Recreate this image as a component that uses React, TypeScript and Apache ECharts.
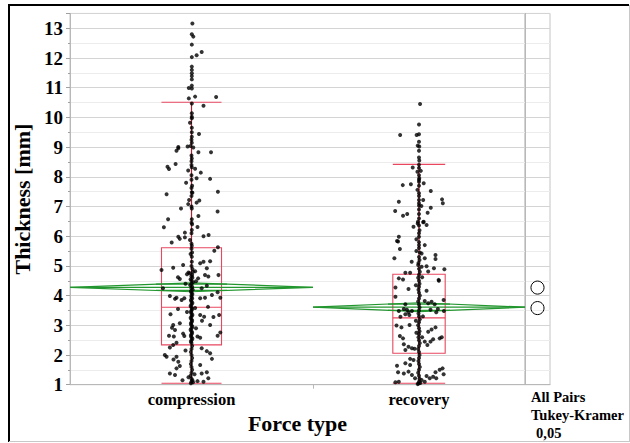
import React, { useEffect, useRef } from "react";
import * as echarts from "echarts";

// ---------- data ----------
const categories = ["compression", "recovery"];
// group widths on the x axis (proportional to group size, JMP style)
const bandWeights = [243, 212];

// box plot stats: [min whisker, Q1, median, Q3, max whisker]
const compressionBox = [1.05, 2.34, 3.61, 5.61, 10.51];
const recoveryBox = [1.05, 2.06, 3.25, 4.72, 8.42];

// means diamonds: [mean, lower 95%, upper 95%]
const compressionMean = [4.28, 4.13, 4.43];
const recoveryMean = [3.61, 3.46, 3.76];

// comparison circles (Tukey-Kramer): [centre, radius]
const compressionCircle = [4.27, 0.22];
const recoveryCircle = [3.58, 0.22];

// jittered observations: [jitter (fraction of box half-width), thickness]
const compressionPoints = [
  [0.03, 13.16], [0.01, 12.8], [0.06, 12.72], [0.01, 12.45], [0.01, 12.03], [0.17, 12.09], [0.34, 12.2],
  [0.01, 11.71], [0.01, 11.6], [0.01, 11.49], [0.01, 11.39], [0.01, 11.28], [0.01, 11.07], [-0.09, 10.99], [0.01, 10.97],
  [-0.09, 10.64], [0.12, 10.7], [0.82, 10.69], [0.01, 10.47], [0.4, 10.39],
  [0.01, 10.14], [0.01, 10.02], [0.01, 9.97], [-0.05, 9.82], [0.01, 9.65], [0.01, 9.5], [0.25, 9.44], [0.01, 9.35],
  [0.0, 9.25], [0.01, 9.15], [-0.44, 9.0], [-0.13, 9.02], [-0.03, 9.04], [0.06, 8.99],
  [-0.44, 8.96], [-0.5, 8.88], [0.23, 8.83], [0.65, 8.83], [0.0, 8.72], [0.01, 8.62], [0.0, 8.52],
  [-0.8, 8.34], [-0.75, 8.26], [-0.53, 8.43], [-0.11, 8.21], [0.12, 8.27], [0.31, 8.14], [0.0, 8.4], [0.01, 8.32],
  [0.62, 7.93], [0.17, 7.95], [-0.18, 7.8], [0.0, 8.05], [0.0, 7.9], [0.02, 7.7], [0.0, 7.62],
  [0.01, 7.48], [0.03, 7.46], [0.88, 7.5], [-0.83, 7.41], [0.0, 7.35],
  [-0.08, 7.22], [0.26, 7.2], [0.17, 7.13], [-0.11, 7.08], [0.0, 7.0],
  [-0.35, 6.93], [0.01, 6.93], [0.87, 6.83], [0.23, 6.68], [0.01, 6.57], [-0.78, 6.57], [0.0, 6.45], [0.02, 6.4],
  [-0.92, 6.3], [0.2, 6.31], [0.01, 6.21], [-0.22, 6.12], [0.4, 6.0], [0.57, 6.04], [0.0, 6.1],
  [-0.44, 5.98], [-0.39, 5.91], [-0.22, 5.96], [-0.66, 5.79], [-0.05, 5.87], [0.0, 5.75], [0.01, 5.68],
  [0.88, 5.63], [0.76, 5.51], [0.0, 5.58], [0.02, 5.45], [-0.03, 5.4],
  [0.01, 5.31], [0.01, 5.14], [0.4, 5.14], [0.62, 5.16], [-1.0, 4.86], [-0.61, 4.94], [-0.28, 5.03], [0.29, 5.09], [0.51, 4.92],
  [0.0, 5.0], [0.03, 4.9], [0.05, 4.8], [-0.06, 4.75], [0.02, 4.7], [0.0, 4.65], [0.03, 4.6], [-0.03, 4.55], [0.0, 4.5],
  [0.05, 4.45], [0.0, 4.4], [-0.04, 4.35], [0.02, 4.3], [0.0, 4.25], [0.04, 4.2], [-0.02, 4.15], [0.0, 4.1], [0.03, 4.05], [0.0, 4.0],
  [-0.39, 4.56], [0.45, 4.69], [0.56, 4.64], [0.9, 4.69], [-0.1, 4.78], [0.12, 4.82], [-0.15, 4.72],
  [-0.95, 4.25], [0.34, 4.25], [0.51, 4.33], [-0.2, 4.4], [0.15, 4.48], [-0.45, 4.62], [0.22, 4.58],
  [-0.72, 3.99], [-0.55, 3.89], [-0.5, 3.93], [-0.33, 3.85], [-0.24, 3.91], [0.29, 3.91], [0.45, 3.93], [0.68, 4.02], [0.96, 3.93], [0.87, 4.11],
  [0.0, 3.95], [0.02, 3.9], [-0.02, 3.85], [0.0, 3.8], [0.03, 3.75], [0.0, 3.7], [-0.03, 3.65], [0.0, 3.6], [0.02, 3.55], [0.0, 3.5],
  [-0.02, 3.45], [0.0, 3.4], [0.03, 3.35], [0.0, 3.3], [-0.03, 3.25], [0.0, 3.2], [0.02, 3.15], [0.0, 3.1], [-0.02, 3.05], [0.0, 3.0],
  [0.03, 2.95], [0.0, 2.9], [-0.03, 2.85], [0.0, 2.8], [0.02, 2.75], [0.0, 2.7], [-0.02, 2.65], [0.0, 2.6], [0.03, 2.55], [0.0, 2.5],
  [-0.02, 2.45], [0.0, 2.4], [0.02, 2.3], [0.0, 2.2], [-0.02, 2.1], [0.0, 2.0], [0.02, 1.9], [0.0, 1.8], [-0.02, 1.7], [0.0, 1.6],
  [0.02, 1.5], [0.0, 1.4], [-0.03, 1.3], [0.0, 1.2], [0.03, 1.15], [0.0, 1.1], [-0.02, 1.05], [0.05, 1.08],
  [-0.7, 3.37], [0.29, 3.35], [0.42, 3.29], [0.73, 3.28], [0.92, 3.35], [-0.15, 3.45], [0.12, 3.58], [-0.45, 3.55], [0.55, 3.62],
  [-0.39, 3.07], [-0.61, 3.01], [0.62, 3.01], [-0.65, 2.92], [-0.55, 2.84], [0.15, 2.9], [0.35, 3.15],
  [0.96, 2.76], [0.87, 2.65], [-0.28, 2.72], [-0.24, 2.64], [-0.75, 2.65], [-0.59, 2.62], [0.2, 2.62], [0.29, 2.58],
  [-0.5, 2.41], [-0.72, 2.25], [-0.61, 2.34], [0.34, 2.23], [0.51, 2.13], [-0.2, 2.15],
  [-0.89, 2.0], [-0.83, 1.94], [-0.5, 1.94], [-0.44, 1.77], [0.62, 2.06], [0.68, 1.87], [-0.6, 1.85],
  [0.29, 1.66], [-0.5, 1.55], [-0.39, 1.63], [-0.72, 1.38], [-0.55, 1.33], [0.34, 1.38], [0.51, 1.42],
  [0.2, 1.12], [0.4, 1.1], [0.56, 1.22], [-0.1, 1.25], [0.1, 1.35], [-0.3, 1.15],
];

const recoveryPoints = [
  [0.04, 10.45], [0.0, 9.76], [-0.72, 9.41], [-0.09, 9.41], [0.0, 9.43], [0.0, 9.18], [-0.05, 9.05], [0.01, 9.02], [0.0, 8.88],
  [0.0, 8.65], [0.01, 8.55], [0.0, 8.41], [-0.24, 8.31], [-0.06, 8.17], [0.07, 8.2], [0.0, 8.05], [0.01, 7.95], [0.0, 8.3], [0.0, 7.9],
  [0.0, 7.83], [0.0, 7.7], [-0.62, 7.72], [-0.31, 7.75], [0.18, 7.78], [-0.06, 7.56], [0.45, 7.52], [0.0, 7.45], [0.0, 7.35],
  [0.0, 7.22], [0.0, 7.11], [0.0, 7.03], [-0.77, 7.16], [0.16, 7.22], [0.88, 7.24], [0.91, 7.11], [0.09, 7.02], [0.45, 6.96],
  [-0.91, 6.85], [-0.61, 6.69], [-0.45, 6.75], [0.0, 6.75], [0.0, 6.6], [0.33, 6.79], [0.0, 6.9],
  [-0.21, 6.32], [-0.05, 6.43], [0.0, 6.36], [0.18, 6.49], [0.29, 6.38], [-0.04, 6.49], [0.16, 6.47], [0.02, 6.2],
  [-0.77, 5.98], [0.0, 6.1], [0.0, 5.98], [-0.84, 5.84], [-0.8, 5.82], [-0.1, 5.9], [0.0, 5.8], [0.22, 5.7], [-0.73, 5.57],
  [0.0, 5.6], [0.0, 5.7], [-0.1, 5.5], [0.03, 5.45], [0.1, 5.42], [0.63, 5.37], [0.63, 5.23], [-0.94, 5.26], [0.22, 5.26],
  [-0.28, 5.14], [-0.03, 5.03], [0.1, 4.97], [0.29, 4.99], [0.57, 4.92], [0.97, 4.89], [-0.52, 4.77], [-0.34, 4.77], [0.35, 4.81],
  [-0.77, 4.58], [-0.61, 4.54], [0.75, 4.53], [-0.4, 4.22], [0.29, 4.16], [-0.9, 4.27], [0.76, 4.5], [0.12, 4.62], [-0.12, 4.35],
  [-0.9, 3.96], [0.94, 3.85], [-0.52, 3.71], [-0.58, 3.55], [0.22, 3.82], [0.35, 3.74], [0.48, 3.79], [0.6, 3.71],
  [-0.46, 3.52], [0.44, 3.52], [0.66, 3.44], [-0.77, 3.48], [-0.27, 3.48], [0.72, 3.55], [0.95, 3.48],
  [-0.71, 3.29], [-0.52, 3.37], [-0.4, 3.44], [-0.37, 3.35], [0.15, 3.3], [-0.12, 3.15],
  [-0.86, 2.99], [-0.67, 2.93], [-0.36, 3.01], [-0.73, 2.64], [-0.61, 2.56],
  [0.35, 2.78], [0.48, 2.86], [0.63, 2.93], [0.87, 2.6], [0.79, 2.56], [0.54, 2.53], [0.44, 2.45], [0.22, 2.45], [0.32, 2.34],
  [-0.58, 2.36], [-0.4, 2.28], [-0.27, 2.23], [-0.17, 2.21], [-0.52, 2.17], [0.12, 2.6], [-0.1, 2.75],
  [-0.84, 1.64], [-0.52, 1.72], [-0.34, 1.87], [-0.21, 1.83], [-0.34, 1.66], [-0.4, 1.44], [-0.58, 1.38], [-0.8, 1.42],
  [0.63, 1.42], [0.79, 1.5], [0.9, 1.55], [0.54, 1.27], [0.66, 1.22], [0.94, 1.35], [0.29, 1.29], [0.41, 1.22],
  [-0.9, 1.08], [-0.77, 1.1], [0.1, 1.16], [0.22, 1.1], [-0.27, 1.33], [-0.15, 1.22],
  [0.0, 5.3], [0.02, 5.2], [-0.02, 5.1], [0.0, 4.9], [0.03, 4.8], [0.0, 4.7], [-0.03, 4.6], [0.0, 4.5], [0.02, 4.4], [0.0, 4.3],
  [-0.02, 4.2], [0.0, 4.1], [0.03, 4.0], [0.0, 3.9], [-0.03, 3.8], [0.0, 3.7], [0.02, 3.6], [0.0, 3.5], [-0.02, 3.4], [0.0, 3.3],
  [0.03, 3.2], [0.0, 3.1], [-0.03, 3.0], [0.0, 2.9], [0.02, 2.8], [0.0, 2.7], [-0.02, 2.6], [0.0, 2.5], [0.03, 2.4], [0.0, 2.3],
  [-0.03, 2.2], [0.0, 2.1], [0.02, 2.0], [0.0, 1.9], [-0.02, 1.8], [0.0, 1.7], [0.03, 1.6], [0.0, 1.5], [-0.03, 1.4], [0.0, 1.3],
  [0.02, 1.2], [0.0, 1.1], [-0.02, 1.04], [0.05, 1.06], [-0.05, 1.02],
];

// ---------- styling ----------
const FONT = "'Liberation Serif', 'Times New Roman', serif";
const RED = "#e8475f";
const GREEN = "#23962f";
const BOX_FRAC = 0.1235; // half box width as fraction of group width

export default function App() {
  const ref = useRef<HTMLDivElement>(null);

  useEffect(() => {
    if (!ref.current) return;
    const chart = echarts.init(ref.current, null, { renderer: "svg" });

    const starts = [0, bandWeights[0]];
    const total = bandWeights[0] + bandWeights[1];
    const centers = starts.map((s, i) => s + bandWeights[i] / 2);
    const halfW = bandWeights.map((w) => w * BOX_FRAC);
    const boxes = [compressionBox, recoveryBox];
    const means = [compressionMean, recoveryMean];
    const pts = [compressionPoints, recoveryPoints];
    const circles = [compressionCircle, recoveryCircle];

    const scatterData: number[][] = [];
    pts.forEach((arr, g) =>
      arr.forEach(([o, v]) => scatterData.push([centers[g] + o * halfW[g], v]))
    );

    const boxData = boxes.map((b, g) => [centers[g], halfW[g], ...b]);
    const diamondData = means.map((m, g) => [starts[g], starts[g] + bandWeights[g], ...m]);

    const gridTop = 13.45;
    const gridBottom = 443 - 384.7;

    const option: any = {
      animation: false,
      backgroundColor: "#fff",
      textStyle: { fontFamily: FONT },
      grid: [
        {
          left: 70, top: gridTop, width: 455, bottom: gridBottom,
          show: true, borderColor: "#c4c4c4", borderWidth: 1, backgroundColor: "transparent",
        },
        {
          left: 525, top: gridTop, width: 25, bottom: gridBottom,
          show: true, borderColor: "#c4c4c4", borderWidth: 1, backgroundColor: "transparent",
        },
      ],
      xAxis: [
        {
          type: "value", gridIndex: 0, min: 0, max: total,
          axisLine: { show: true, lineStyle: { color: "#b8b8b8" } },
          splitLine: { show: false },
          axisTick: { show: true, customValues: [bandWeights[0]], length: 4, lineStyle: { color: "#b8b8b8" } },
          axisLabel: {
            show: true,
            customValues: centers,
            margin: 6,
            formatter: (v: number) => {
              let best = 0;
              centers.forEach((c, i) => { if (Math.abs(c - v) < Math.abs(centers[best] - v)) best = i; });
              return categories[best];
            },
            color: "#000", fontFamily: FONT, fontWeight: "bold", fontSize: 16.5,
          },
          name: "Force type",
          nameLocation: "middle",
          nameGap: 28,
          nameTextStyle: { color: "#000", fontFamily: FONT, fontWeight: "bold", fontSize: 22 },
        },
        {
          type: "value", gridIndex: 1, min: 0, max: 1,
          axisLine: { show: true, lineStyle: { color: "#b8b8b8" } },
          axisTick: { show: false }, axisLabel: { show: false }, splitLine: { show: false },
        },
      ],
      yAxis: [
        {
          type: "value", gridIndex: 0, min: 1, max: 13.5, interval: 1,
          axisLine: { show: true, lineStyle: { color: "#b8b8b8" } },
          axisTick: { show: true, length: 4, lineStyle: { color: "#a0a0a0" } },
          minorTick: { show: true, splitNumber: 2, length: 2, lineStyle: { color: "#a0a0a0" } },
          splitLine: { show: true, lineStyle: { color: "#d4d4d4", width: 1 } },
          minorSplitLine: { show: true, lineStyle: { color: "#ececec", width: 1 } },
          axisLabel: {
            showMaxLabel: false, margin: 7, color: "#000",
            fontFamily: FONT, fontWeight: "bold", fontSize: 19,
          },
          name: "Thickness [mm]",
          nameLocation: "middle",
          nameGap: 30,
          nameTextStyle: { color: "#000", fontFamily: FONT, fontWeight: "bold", fontSize: 22 },
        },
        {
          type: "value", gridIndex: 1, min: 1, max: 13.5, interval: 1,
          axisLine: { show: true, lineStyle: { color: "#b8b8b8" } },
          axisTick: { show: false }, axisLabel: { show: false },
          minorTick: { show: false, splitNumber: 2 },
          splitLine: { show: true, lineStyle: { color: "#d4d4d4", width: 1 } },
          minorSplitLine: { show: true, lineStyle: { color: "#ececec", width: 1 } },
        },
      ],
      series: [
        {
          type: "custom",
          name: "boxes",
          xAxisIndex: 0, yAxisIndex: 0,
          z: 2, silent: true,
          data: boxData,
          renderItem: (_p: any, api: any) => {
            const c = api.value(0), h = api.value(1);
            const mn = api.value(2), q1 = api.value(3), md = api.value(4), q3 = api.value(5), mx = api.value(6);
            const tl = api.coord([c - h, q3]);
            const br = api.coord([c + h, q1]);
            const m1 = api.coord([c - h, md]);
            const m2 = api.coord([c + h, md]);
            const top = api.coord([c, mx]);
            const bot = api.coord([c, mn]);
            const capL = api.coord([c - h, mx])[0];
            const capR = api.coord([c + h, mx])[0];
            const st = { stroke: RED, lineWidth: 1.1, fill: "none" };
            return {
              type: "group",
              children: [
                { type: "rect", shape: { x: tl[0], y: tl[1], width: br[0] - tl[0], height: br[1] - tl[1] }, style: st },
                { type: "line", shape: { x1: m1[0], y1: m1[1], x2: m2[0], y2: m2[1] }, style: st },
                { type: "line", shape: { x1: top[0], y1: top[1], x2: bot[0], y2: bot[1] }, style: { stroke: "#b0202e", lineWidth: 1.2 } },
                { type: "line", shape: { x1: capL, y1: top[1], x2: capR, y2: top[1] }, style: st },
                { type: "line", shape: { x1: capL, y1: bot[1], x2: capR, y2: bot[1] }, style: st },
              ],
            };
          },
        },
        {
          type: "custom",
          name: "means",
          xAxisIndex: 0, yAxisIndex: 0,
          z: 3, silent: true,
          data: diamondData,
          renderItem: (_p: any, api: any) => {
            const s = api.value(0), e = api.value(1);
            const mean = api.value(2), lo = api.value(3), hi = api.value(4);
            const c = (s + e) / 2;
            const pS = api.coord([s, mean]);
            const pE = api.coord([e, mean]);
            const pH = api.coord([c, hi]);
            const pL = api.coord([c, lo]);
            const d = (hi - mean) / Math.SQRT2;
            const frac = 1 - 1 / Math.SQRT2;
            const ovHalf = ((e - s) / 2) * frac;
            const oU1 = api.coord([c - ovHalf, mean + d]);
            const oU2 = api.coord([c + ovHalf, mean + d]);
            const oL1 = api.coord([c - ovHalf, mean - d]);
            const oL2 = api.coord([c + ovHalf, mean - d]);
            const st = { stroke: GREEN, lineWidth: 1.2, fill: "none" };
            return {
              type: "group",
              children: [
                { type: "polygon", shape: { points: [pS, pH, pE, pL] }, style: st },
                { type: "line", shape: { x1: pS[0], y1: pS[1], x2: pE[0], y2: pE[1] }, style: st },
                { type: "line", shape: { x1: oU1[0], y1: oU1[1], x2: oU2[0], y2: oU2[1] }, style: st },
                { type: "line", shape: { x1: oL1[0], y1: oL1[1], x2: oL2[0], y2: oL2[1] }, style: st },
              ],
            };
          },
        },
        {
          type: "scatter",
          name: "points",
          xAxisIndex: 0, yAxisIndex: 0,
          z: 4, silent: true,
          symbol: "circle",
          symbolSize: 4,
          itemStyle: { color: "#000" },
          data: scatterData,
        },
        {
          type: "custom",
          name: "circles",
          xAxisIndex: 1, yAxisIndex: 1,
          z: 4, silent: true,
          data: circles.map((c) => [0.5, c[0], c[1]]),
          renderItem: (_p: any, api: any) => {
            const p = api.coord([api.value(0), api.value(1)]);
            const r = Math.abs(api.coord([0.5, api.value(1) + api.value(2)])[1] - p[1]);
            return {
              type: "circle",
              shape: { cx: p[0], cy: p[1], r },
              style: { fill: "none", stroke: "#000", lineWidth: 1 },
            };
          },
        },
      ],
      graphic: [
        { type: "line", shape: { x1: 9, y1: 5, x2: 629, y2: 5 }, style: { stroke: "#000", lineWidth: 2 } },
        { type: "line", shape: { x1: 9, y1: 4, x2: 9, y2: 442 }, style: { stroke: "#000", lineWidth: 2 } },
        { type: "line", shape: { x1: 9, y1: 441.5, x2: 629, y2: 441.5 }, style: { stroke: "#c8c8c8", lineWidth: 1 } },
        { type: "line", shape: { x1: 629.5, y1: 5, x2: 629.5, y2: 442 }, style: { stroke: "#c8c8c8", lineWidth: 1 } },
        {
          type: "text", left: 531, top: 389,
          style: { text: "All Pairs", fill: "#000", font: `bold 14.5px ${FONT}` },
        },
        {
          type: "text", left: 531, top: 407,
          style: { text: "Tukey-Kramer", fill: "#000", font: `bold 14.5px ${FONT}` },
        },
        {
          type: "text", left: 536, top: 425,
          style: { text: "0,05", fill: "#000", font: `bold 14.5px ${FONT}` },
        },
      ],
    };

    chart.setOption(option);
    return () => chart.dispose();
  }, []);

  return (
    <div
      ref={ref}
      style={{ position: "absolute", left: 0, top: 0, width: 630, height: 443, background: "#fff" }}
    />
  );
}
